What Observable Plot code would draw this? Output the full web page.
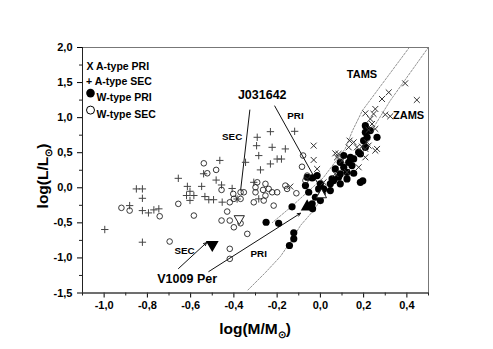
<!DOCTYPE html>
<html><head><meta charset="utf-8">
<script src="https://cdn.jsdelivr.net/npm/d3@7"></script>
<script src="https://cdn.jsdelivr.net/npm/@observablehq/plot@0.6"></script>
<style>
body{margin:0;background:#fff}
svg{font-family:"Liberation Sans",Arial,sans-serif}
</style>
</head><body><div id="chart"></div>
<script>
// ---- data (log M, log L) ----
const aTypePri = [[0.316,1.36],[0.285,1.266],[0.254,1.124],[0.30,1.043],[0.323,1.019],[0.246,1.053],[0.208,1.061],[0.231,0.981],[0.239,0.910],[0.223,0.825],[0.262,0.554],[0.223,0.601],[0.392,1.489],[0.446,1.252],[0.254,0.839],[0.135,0.672],[0.154,0.648],[0.169,0.577],[0.069,0.491],[0.077,0.434],[-0.031,0.601],[-0.031,0.397],[-0.015,0.269],[-0.139,0.017],[0.192,0.587],[0.208,0.554],[0.254,0.530],[0.216,0.648],[0.131,0.577],[0.10,0.387],[0.084,0.483],[0.177,0.292],[0.123,0.221],[0.069,0.198],[0.015,0.078],[0.208,0.434]];
const aTypeSec = [[-0.997,-0.595],[-0.882,-0.254],[-0.851,-0.016],[-0.823,-0.016],[-0.823,-0.15],[-0.823,-0.325],[-0.795,-0.358],[-0.770,-0.315],[-0.747,-0.30],[-0.823,-0.776],[-0.657,0.135],[-0.615,0.02],[-0.603,-0.05],[-0.619,-0.11],[-0.585,-0.11],[-0.603,-0.18],[-0.549,0.02],[-0.534,-0.125],[-0.516,-0.17],[-0.494,-0.17],[-0.54,0.20],[-0.465,0.39],[-0.482,0.11],[-0.454,-0.205],[-0.408,-0.01],[-0.385,-0.16],[-0.292,0.72],[-0.231,0.80],[-0.295,0.60],[-0.223,0.577],[-0.162,0.554],[-0.285,0.459],[-0.346,0.363],[-0.277,0.255],[-0.231,0.34],[-0.20,0.41],[-0.18,0.41],[-0.308,0.078],[-0.285,-0.158],[-0.119,0.805],[-0.457,0.04]];
const wTypePri = [[-0.251,-0.491],[-0.193,-0.506],[-0.131,-0.272],[-0.123,-0.642],[-0.123,-0.728],[-0.143,-0.823],[-0.036,-0.30],[-0.038,0.141],[-0.069,0.031],[-0.054,-0.064],[-0.008,-0.016],[0.008,-0.087],[0.0,-0.182],[-0.038,-0.229],[0.046,0.056],[0.061,0.103],[0.084,0.150],[0.046,-0.04],[0.069,0.269],[0.108,0.292],[0.131,0.363],[0.154,0.412],[0.146,0.316],[0.185,0.483],[0.208,0.577],[0.216,0.719],[0.208,0.791],[0.185,0.078],[0.196,0.10],[0.123,0.127],[0.092,0.056],[-0.061,0.150],[-0.015,0.174],[0.0,0.056],[0.015,-0.016],[0.054,0.127],[0.092,0.198],[0.123,0.221],[0.154,0.207],[-0.023,-0.135],[0.208,0.886],[0.262,0.719],[0.200,0.672],[0.231,0.815],[0.108,0.459],[0.139,0.434],[0.177,0.506],[0.092,0.363]];
const wTypeSec = [[-0.920,-0.286],[-0.882,-0.325],[-0.743,-0.406],[-0.697,-0.766],[-0.657,-0.229],[-0.585,-0.396],[-0.539,0.349],[-0.523,0.207],[-0.482,0.255],[-0.457,-0.03],[-0.419,-0.207],[-0.403,-0.087],[-0.40,-0.158],[-0.369,-0.064],[-0.354,-0.064],[-0.369,-0.158],[-0.431,-0.339],[-0.457,-0.467],[-0.419,-0.467],[-0.40,-0.563],[-0.369,-0.506],[-0.338,-0.657],[-0.419,-0.870],[-0.419,-1.013],[-0.292,0.078],[-0.254,0.056],[-0.300,0.007],[-0.239,-0.016],[-0.265,-0.03],[-0.223,-0.064],[-0.20,-0.064],[-0.30,-0.064],[-0.254,-0.111],[-0.308,-0.207],[-0.262,-0.182],[-0.216,-0.254],[-0.154,-0.016],[-0.111,-0.078],[-0.08,0.46],[-0.085,0.30],[-0.061,0.174],[-0.069,0.103],[-0.162,0.031]];
// special systems
const v1009PerSec = [[-0.50,-0.81]];
const v1009PerPri = [[-0.061,-0.27]];
const j031642Sec = [[-0.375,-0.44]];
const j031642Pri = [[0.005,-0.10]];
// evolutionary tracks
const tams = [[0.411,2.0],[0.194,1.10],[0.148,0.81],[0.115,0.558],[0.014,0.145],[-0.139,-0.282],[-0.222,-0.496]];
const zams = [[0.499,2.0],[0.323,1.242],[0.185,0.558],[0.069,0.103],[0.005,-0.154],[-0.032,-0.325],[-0.092,-0.538],[-0.134,-0.752],[-0.185,-0.98],[-0.254,-1.208],[-0.337,-1.464]];
// annotation lines and arrows
const j031642Lines = [[-0.326,1.114,-0.369,-0.04],[-0.212,1.171,-0.009,0.046]];
const v1009Arrows = [[-0.656,-1.151,-0.526,-0.781],[-0.516,-1.194,-0.092,-0.363]];
// annotation labels
const bigLabels = [["J031642",-0.269,1.323],["V1009 Per",-0.616,-1.298]];
const trackLabels = [["TAMS",0.1925,1.622],["ZAMS",0.408,1.029]];
const smallLabels = [["PRI",-0.115,1.028],["SEC",-0.408,0.729],["SEC",-0.628,-0.895],["PRI",-0.285,-0.942]];
// axes
const xTicks = [-1.0,-0.8,-0.6,-0.4,-0.2,0.0,0.2,0.4];
const xMinor = [-1.1,-0.9,-0.7,-0.5,-0.3,-0.1,0.1,0.3,0.5];
const yTicks = [-1.5,-1.0,-0.5,0.0,0.5,1.0,1.5,2.0];
const yMinor = [-1.25,-0.75,-0.25,0.25,0.75,1.25,1.75];
const legendLabels = ["X A-type PRI","+ A-type SEC","W-type PRI","W-type SEC"];

const fmt = d => d.toFixed(1).replace(".", ",");
const X = d => d[0], Y = d => d[1];
const sq3 = Math.sqrt(3);
const triDown = {draw(ctx, size){ const y = -Math.sqrt(size/(sq3*3)); ctx.moveTo(0,-2*y); ctx.lineTo(-sq3*y, y); ctx.lineTo(sq3*y, y); ctx.closePath(); }};

const chart = Plot.plot({
  width: 493, height: 349,
  marginLeft: 82, marginRight: 65, marginTop: 47, marginBottom: 56.5,
  style: {fontFamily: "Liberation Sans, Arial, sans-serif", fontSize: "11px", fontWeight: "bold", color: "black", background: "white"},
  x: {domain: [-1.1, 0.5], ticks: xTicks, tickFormat: fmt, tickSize: 5, tickPadding: 3, label: null},
  y: {domain: [-1.5, 2.0], ticks: yTicks, tickFormat: fmt, tickSize: 5, tickPadding: 5, label: null},
  marks: [
    Plot.frame({stroke: "#777"}),
    Plot.ruleX([-1.1], {stroke: "#222"}),
    Plot.ruleY([-1.5], {stroke: "#222"}),
    Plot.ruleX(xMinor, {x: d => d, y1: -1.5, y2: -1.5, insetBottom: -3, stroke: "#222"}),
    Plot.ruleY(yMinor, {y: d => d, x1: -1.1, x2: -1.1, insetLeft: -3, stroke: "#222"}),
    Plot.line(tams, {x: X, y: Y, stroke: "#777", strokeWidth: 0.8, strokeDasharray: "2,1.5"}),
    Plot.line(zams, {x: X, y: Y, stroke: "#777", strokeWidth: 0.8, strokeDasharray: "2,1.5"}),
    Plot.link(j031642Lines, {x1: d => d[0], y1: d => d[1], x2: d => d[2], y2: d => d[3], stroke: "#111", strokeWidth: 1}),
    Plot.arrow(v1009Arrows, {x1: d => d[0], y1: d => d[1], x2: d => d[2], y2: d => d[3], stroke: "#111", strokeWidth: 1, headLength: 5, headAngle: 50}),
    Plot.dot(wTypePri, {x: X, y: Y, r: 3.6, fill: "black", stroke: "none"}),
    Plot.dot(aTypePri, {x: X, y: Y, r: 2.8, symbol: "times", stroke: "#333", strokeWidth: 1}),
    Plot.dot(aTypeSec, {x: X, y: Y, r: 2.5, symbol: "plus", stroke: "#444", strokeWidth: 1}),
    Plot.dot(wTypeSec, {x: X, y: Y, r: 2.8, fill: "none", stroke: "#222", strokeWidth: 0.9}),
    Plot.dot(v1009PerSec, {x: X, y: Y, r: 3.8, symbol: triDown, fill: "black", stroke: "black"}),
    Plot.dot(v1009PerPri, {x: X, y: Y, r: 3.8, symbol: "triangle", fill: "black", stroke: "black"}),
    Plot.dot(j031642Sec, {x: X, y: Y, r: 3.8, symbol: triDown, fill: "white", stroke: "#222", strokeWidth: 1}),
    Plot.dot(j031642Pri, {x: X, y: Y, r: 3.8, symbol: "triangle", fill: "white", stroke: "#222", strokeWidth: 1}),
    Plot.text(bigLabels, {x: d => d[1], y: d => d[2], text: d => d[0], fontSize: 12.5, fontWeight: "bold", fill: "black"}),
    Plot.text(trackLabels, {x: d => d[1], y: d => d[2], text: d => d[0], fontSize: 11, fontWeight: "bold", fill: "black"}),
    Plot.text(smallLabels, {x: d => d[1], y: d => d[2], text: d => d[0], fontSize: 9.8, fontWeight: "bold", fill: "black"}),
    // legend
    Plot.text([legendLabels[0]], {frameAnchor: "top-left", dx: 4, dy: 15, text: d => d, textAnchor: "start", fontSize: 10.5, fontWeight: "bold", fill: "black"}),
    Plot.text([legendLabels[1]], {frameAnchor: "top-left", dx: 3.5, dy: 30, text: d => d, textAnchor: "start", fontSize: 10.5, fontWeight: "bold", fill: "black"}),
    Plot.dot([0], {frameAnchor: "top-left", dx: 8, dy: 45.6, r: 4.3, fill: "black"}),
    Plot.text([legendLabels[2]], {frameAnchor: "top-left", dx: 14, dy: 45.6, text: d => d, textAnchor: "start", fontSize: 10.5, fontWeight: "bold", fill: "black"}),
    Plot.dot([0], {frameAnchor: "top-left", dx: 8, dy: 62.6, r: 4, fill: "white", stroke: "black", strokeWidth: 1}),
    Plot.text([legendLabels[3]], {frameAnchor: "top-left", dx: 14, dy: 62.6, text: d => d, textAnchor: "start", fontSize: 10.5, fontWeight: "bold", fill: "black"})
  ]
});

document.getElementById("chart").appendChild(chart);
const svg = d3.select(chart);
svg.selectAll("g[aria-label='x-axis'] text, g[aria-label='y-axis'] text, g[aria-label='x-axis tick label'] text, g[aria-label='y-axis tick label'] text")
  .attr("font-weight", "bold").attr("font-size", 11).attr("fill", "black");

// axis titles with sun subscript
const xl = svg.append("text").attr("x", 255).attr("y", 334).attr("text-anchor", "middle")
  .attr("font-size", 15.5).attr("font-weight", "bold").attr("fill", "black");
xl.append("tspan").text("log(M/M");
xl.append("tspan").attr("font-size", 10).attr("dy", 4).text("\u2299");
xl.append("tspan").attr("dy", -4).text(")");

const yl = svg.append("text").attr("transform", "translate(48,176) rotate(-90)").attr("text-anchor", "middle")
  .attr("font-size", 15.5).attr("font-weight", "bold").attr("fill", "black");
yl.append("tspan").text("log(L/L");
yl.append("tspan").attr("font-size", 10).attr("dy", 4).text("\u2299");
yl.append("tspan").attr("dy", -4).text(")");
</script>
</body></html>
